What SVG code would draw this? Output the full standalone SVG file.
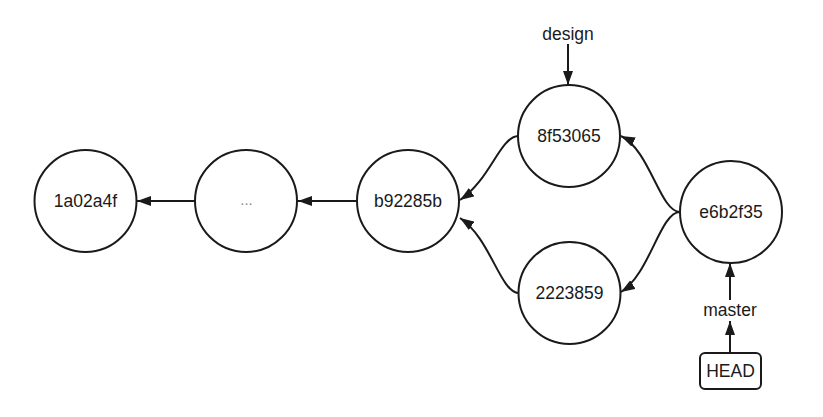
<svg xmlns="http://www.w3.org/2000/svg" width="823" height="417" viewBox="0 0 823 417">
<style>
.node circle{fill:#fff;stroke:#1a1a1a;stroke-width:2}
.node rect{fill:#fff;stroke:#1a1a1a;stroke-width:2}
text{font-family:"Liberation Sans",Arial,sans-serif;font-size:17.5px;fill:#1a1a1a;text-anchor:middle;dominant-baseline:central}
.conn path{fill:none;stroke:#1a1a1a;stroke-width:2;marker-end:url(#ah)}
</style>
<defs>
<marker id="ah" markerUnits="userSpaceOnUse" markerWidth="15" markerHeight="11" refX="14" refY="5.5" orient="auto">
<path d="M0,0.5 L14,5.5 L0,10.5 z" fill="#1a1a1a"/>
</marker>
</defs>
<rect width="823" height="417" fill="#fff"/>
<g class="conn">
<path d="M195,201 L137,201"/>
<path d="M357,201 L298,201"/>
<path d="M518,136 C500,137 490,180 460,200"/>
<path d="M518,293 C500,291 490,238 460,218"/>
<path d="M680,212 C660,212 650,150 621,136"/>
<path d="M680,212 C660,212 650,274 621,292"/>
<path d="M568,44 L568,85"/>
<path d="M730,300 L730,263"/>
<path d="M730,353 L730,321"/>
</g>
<g id="n1a02a4f" class="node"><circle cx="85.5" cy="201" r="51"/><text x="85.5" y="201">1a02a4f</text></g>
<g id="ndots" class="node"><circle cx="246" cy="201" r="51"/><text x="246.5" y="199" style="fill:#888;font-size:15px">...</text></g>
<g id="nb92285b" class="node"><circle cx="408" cy="201" r="51"/><text x="408" y="201">b92285b</text></g>
<g id="n8f53065" class="node"><circle cx="569" cy="136" r="51"/><text x="569" y="136">8f53065</text></g>
<g id="n2223859" class="node"><circle cx="569.5" cy="293" r="51"/><text x="569.5" y="293">2223859</text></g>
<g id="ne6b2f35" class="node"><circle cx="731" cy="212" r="51"/><text x="731" y="212">e6b2f35</text></g>
<g id="ldesign" class="node"><text x="568" y="34">design</text></g>
<g id="lmaster" class="node"><text x="730" y="310">master</text></g>
<g id="lhead" class="node"><rect x="700" y="353" width="61" height="36" rx="5"/><text x="730.5" y="371">HEAD</text></g>
</svg>
